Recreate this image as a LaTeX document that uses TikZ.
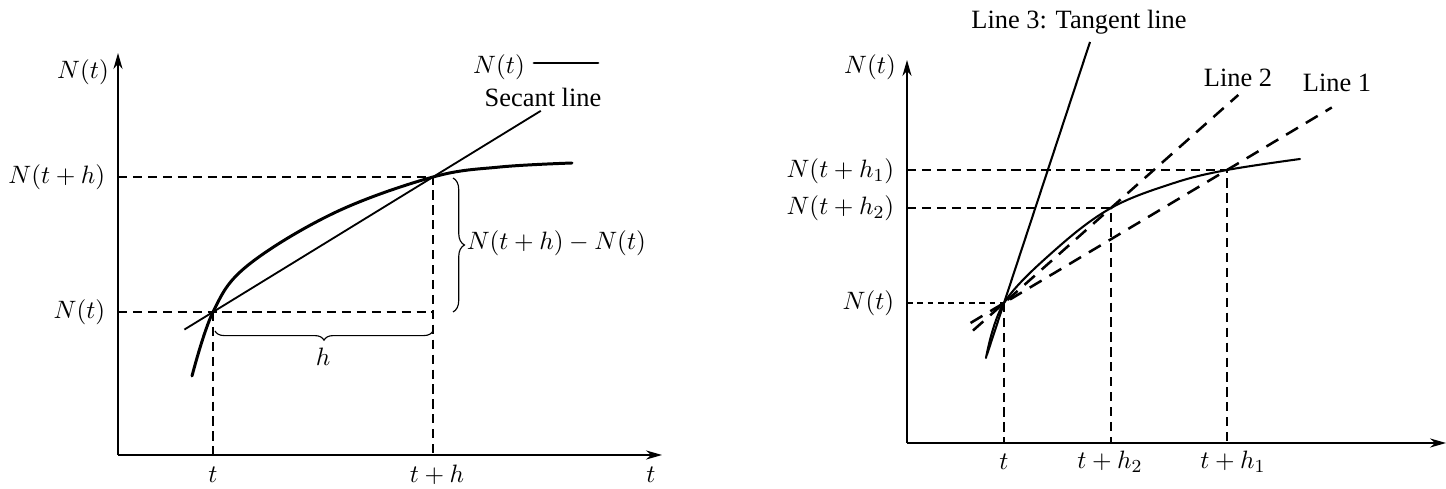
\documentclass[tikz,border=0pt]{standalone}
\usepackage{fontspec}
\setmainfont{Liberation Serif}
\usetikzlibrary{arrows.meta,calc,decorations.pathreplacing}

\begin{document}
\begin{tikzpicture}[
    x=0.0153cm, y=-0.0153cm,
    axis/.style={-{Stealth[length=7pt,width=4pt]}, line width=0.6pt},
    guide/.style={dash pattern=on 4pt off 2.5pt, line width=0.5pt},
    fine/.style={dash pattern=on 2.5pt off 2pt, line width=0.45pt},
    curve/.style={line width=#1, line cap=round},
    curve/.default=1.3pt,
    secant/.style={dash pattern=on 6pt off 4pt, line width=1.1pt},
    txt/.style={font=\fontsize{11.5}{13}\selectfont, inner sep=1pt},
    lbl/.style={font=\fontsize{11}{13}\selectfont, inner sep=1pt},
    brc/.style={decorate, line width=0.5pt, decoration={brace, amplitude=#1}},
]
\useasboundingbox (0,0) rectangle (1446,489);

% left panel: secant line
\coordinate (O1) at (118,455);
\coordinate (P) at (213,312);
\coordinate (Q) at (433,177);

\draw[guide] (O1 |- Q) -- (Q) -- (Q |- O1);
\draw[guide] (O1 |- P) -- (Q |- P);
\draw[guide] (P) -- (P |- O1);

\draw[axis] (O1) -- (118,53);
\draw[axis] (O1) -- (662,455);

\draw[line width=0.8pt] ($(P)!-0.13!(Q)$) -- ($(P)!1.49!(Q)$);
\draw[curve] plot[smooth, tension=0.6] coordinates {(192,376) (P) (247,266) (334,213) (Q) (500,167) (572,163)};

\draw[brc=5pt] (453,178) -- (453,312);
\draw[brc=4pt, decoration={mirror}] (215,331) -- (433,331);

\node[lbl] (ny1) at (83,72) {$N(t)$};
\node[lbl, anchor=east] (nth) at (108,177) {$N(t+h)$};
\node[lbl, anchor=east] (nt1) at (108,312) {$N(t)$};
\node[lbl] (t1) at (213,475) {$t$};
\node[lbl] (th) at (437,475) {$t+h$};
\node[lbl] (tx1) at (651,475) {$t$};
\node[lbl] (hh) at (323,357) {$h$};
\node[lbl, anchor=west] (diff) at (464,243) {$N(t+h)-N(t)$};

\node[lbl] (legN) at (499,67) {$N(t)$};
\draw[curve] (534,63) -- (598,63);
\node[txt] (legS) at (543,97) {Secant line};

% right panel: tangent line
\coordinate (O2) at (907,443);
\coordinate (A) at (1004,303);
\coordinate (B2) at (1111,208);
\coordinate (B1) at (1227,170);
\coordinate (tanTop) at (1090,42);

\draw[guide] (O2 |- B1) -- (B1) -- (B1 |- O2);
\draw[guide] (O2 |- B2) -- (B2) -- (B2 |- O2);
\draw[fine] (O2 |- A) -- (A);
\draw[guide] (A) -- (A |- O2);

\draw[axis] (O2) -- (907,60);
\draw[axis] (O2) -- (1446,443);

\draw[secant] ($(A)!-0.29!(B2)$) -- ($(A)!2.19!(B2)$);
\draw[secant] ($(A)!-0.15!(B1)$) -- ($(A)!1.47!(B1)$);
\draw[line width=0.9pt] ($(A)!-0.2!(tanTop)$) -- (tanTop);
\draw[curve=0.9pt] plot[smooth, tension=0.6] coordinates {(986,358) (A) (1055,250) (B2) (1174,183) (B1) (1300,159)};

\node[lbl] (ny2) at (870,67) {$N(t)$};
\node[lbl, anchor=east] (nh1) at (897,171) {$N(t+h_1)$};
\node[lbl, anchor=east] (nh2) at (897,208) {$N(t+h_2)$};
\node[lbl, anchor=east] (nt2) at (897,303) {$N(t)$};
\node[lbl] (t2) at (1004,462) {$t$};
\node[lbl] (th2) at (1110,462) {$t+h_2$};
\node[lbl] (th1) at (1233,462) {$t+h_1$};

\node[txt] (ln3) at (1079,22) {Line 3: Tangent line};
\node[txt] (ln2) at (1238,78) {Line 2};
\node[txt] (ln1) at (1337,83) {Line 1};
\end{tikzpicture}
\end{document}
